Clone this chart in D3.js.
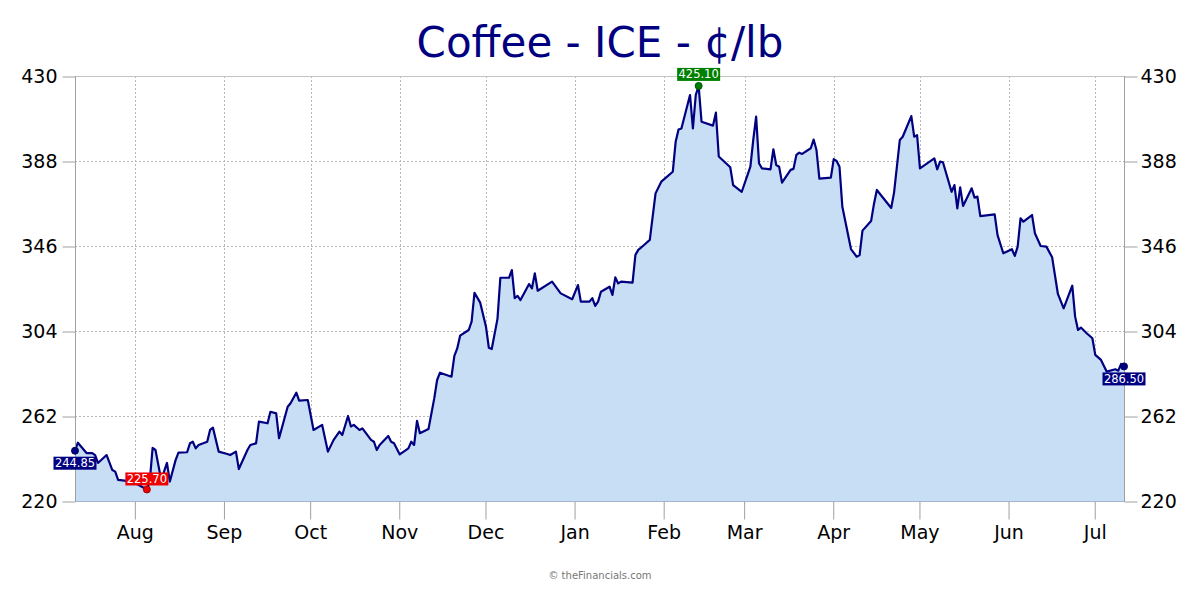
<!DOCTYPE html>
<html>
<head>
<meta charset="utf-8">
<script src="https://cdn.jsdelivr.net/npm/d3@7/dist/d3.min.js"></script>
<style>
  html, body { margin: 0; padding: 0; background: #ffffff; }
  svg { display: block; }
</style>
</head>
<body>
<svg id="chart" width="1200" height="600"></svg>
<script>
const dates = [
  "2024-07-11","2024-07-12","2024-07-15","2024-07-17","2024-07-18","2024-07-19","2024-07-22","2024-07-24","2024-07-25","2024-07-26",
  "2024-07-29","2024-07-31","2024-08-02","2024-08-05","2024-08-06","2024-08-07","2024-08-08","2024-08-10","2024-08-12","2024-08-13",
  "2024-08-15","2024-08-16","2024-08-19","2024-08-20","2024-08-21","2024-08-22","2024-08-23","2024-08-26","2024-08-27","2024-08-28",
  "2024-08-30","2024-09-02","2024-09-03","2024-09-05","2024-09-06","2024-09-09","2024-09-10","2024-09-12","2024-09-13","2024-09-16",
  "2024-09-17","2024-09-19","2024-09-20","2024-09-23","2024-09-24","2024-09-26","2024-09-27","2024-09-30","2024-10-02","2024-10-05",
  "2024-10-07","2024-10-09","2024-10-11","2024-10-12","2024-10-14","2024-10-15","2024-10-16","2024-10-18","2024-10-19","2024-10-22",
  "2024-10-23","2024-10-24","2024-10-25","2024-10-28","2024-10-29","2024-10-30","2024-11-01","2024-11-04","2024-11-05","2024-11-06",
  "2024-11-07","2024-11-08","2024-11-11","2024-11-13","2024-11-14","2024-11-15","2024-11-19","2024-11-20","2024-11-21","2024-11-22",
  "2024-11-25","2024-11-26","2024-11-27","2024-11-29","2024-12-01","2024-12-02","2024-12-03","2024-12-05","2024-12-06","2024-12-09",
  "2024-12-10","2024-12-11","2024-12-12","2024-12-13","2024-12-16","2024-12-17","2024-12-18","2024-12-19","2024-12-24","2024-12-27",
  "2024-12-31","2025-01-02","2025-01-03","2025-01-06","2025-01-07","2025-01-08","2025-01-09","2025-01-10","2025-01-13","2025-01-14",
  "2025-01-15","2025-01-16","2025-01-17","2025-01-21","2025-01-22","2025-01-23","2025-01-25","2025-01-27","2025-01-29","2025-01-31",
  "2025-02-04","2025-02-05","2025-02-06","2025-02-07","2025-02-10","2025-02-11","2025-02-12","2025-02-13","2025-02-14","2025-02-18",
  "2025-02-19","2025-02-20","2025-02-24","2025-02-25","2025-02-28","2025-03-03","2025-03-04","2025-03-05","2025-03-06","2025-03-07",
  "2025-03-10","2025-03-11","2025-03-12","2025-03-13","2025-03-14","2025-03-17","2025-03-18","2025-03-19","2025-03-20","2025-03-21",
  "2025-03-24","2025-03-25","2025-03-26","2025-03-27","2025-03-31","2025-04-01","2025-04-02","2025-04-03","2025-04-04","2025-04-07",
  "2025-04-09","2025-04-10","2025-04-11","2025-04-14","2025-04-15","2025-04-16","2025-04-21","2025-04-22","2025-04-24","2025-04-25",
  "2025-04-28","2025-04-29","2025-04-30","2025-05-01","2025-05-06","2025-05-07","2025-05-08","2025-05-09","2025-05-12","2025-05-13",
  "2025-05-14","2025-05-15","2025-05-16","2025-05-19","2025-05-20","2025-05-21","2025-05-22","2025-05-27","2025-05-28","2025-05-30",
  "2025-06-02","2025-06-03","2025-06-04","2025-06-05","2025-06-06","2025-06-09","2025-06-10","2025-06-12","2025-06-14","2025-06-16",
  "2025-06-18","2025-06-20","2025-06-23","2025-06-24","2025-06-25","2025-06-26","2025-06-28","2025-06-30","2025-07-01","2025-07-03",
  "2025-07-05","2025-07-08","2025-07-09","2025-07-10","2025-07-11"
];
const prices = [
  244.85,248.8,243.7,243.7,242.7,238.8,242.7,235.3,234.5,230.4,
  229.9,229.5,228.0,225.7,229.6,246.2,245.2,230.4,238.8,229.6,
  240.2,243.9,244.1,248.5,249.3,246.0,247.7,249.3,255.1,256.2,
  244.4,243.2,242.7,244.4,235.8,245.2,247.7,248.5,259.2,258.4,
  264.1,263.3,251.0,266.6,268.3,273.5,269.6,269.9,255.1,257.6,
  244.4,250.2,254.3,252.6,262.0,256.8,257.6,255.1,255.9,250.2,
  249.3,245.2,247.7,252.1,249.3,248.5,243.0,246.0,249.3,247.7,
  259.6,253.5,255.6,270.7,279.8,283.4,281.4,291.7,295.4,301.7,
  304.5,308.6,322.9,318.0,306.1,295.7,295.1,310.0,330.3,330.3,
  334.1,320.2,321.3,319.3,327.2,325.1,332.5,323.9,328.4,322.6,
  319.7,326.7,318.5,318.5,320.2,316.4,318.5,323.4,325.9,321.8,
  330.5,327.5,328.4,327.9,341.6,344.1,346.5,349.0,372.0,377.8,
  382.7,397.5,403.6,404.1,420.6,404.1,420.6,425.1,407.4,405.5,
  411.9,390.2,384.9,376.1,372.8,385.2,398.4,409.9,386.9,384.4,
  383.9,393.8,386.0,385.2,377.3,383.6,384.1,391.0,392.1,391.5,
  394.3,398.6,393.4,379.3,379.8,388.9,388.0,385.2,365.4,344.5,
  340.7,341.5,353.6,358.3,366.8,373.7,364.8,372.5,398.4,400.0,
  410.2,400.0,400.8,384.4,389.3,383.9,387.7,387.4,372.8,376.1,
  364.6,375.0,365.8,374.5,369.9,370.4,360.8,361.6,351.4,342.4,
  344.4,341.1,345.7,359.7,358.0,361.3,352.3,346.0,345.7,340.4,
  322.3,315.2,326.4,311.1,304.5,305.7,302.9,300.4,292.2,289.7,
  283.9,285.1,284.4,287.7,286.5
];
const yTicks = [220, 262, 304, 346, 388, 430];
const monthTicks = ["2024-08-01","2024-09-01","2024-10-01","2024-11-01","2024-12-01","2025-01-01",
                    "2025-02-01","2025-03-01","2025-04-01","2025-05-01","2025-06-01","2025-07-01"];
const monthLabels = ["Aug","Sep","Oct","Nov","Dec","Jan","Feb","Mar","Apr","May","Jun","Jul"];
const xDomain = ["2024-07-11","2025-07-11"];
const titleText = "Coffee - ICE - ¢/lb";
const footerText = "© theFinancials.com";
const startLabel = "244.85", endLabel = "286.50", minLabel = "225.70", maxLabel = "425.10";

const parse = d3.utcParse("%Y-%m-%d");
const data = dates.map((d, i) => ({ date: parse(d), value: prices[i] }));

const svg = d3.select("#chart");
const L = 75, R = 1124, T = 76, B = 501;
const font = "DejaVu Sans, Verdana, sans-serif";

const x = d3.scaleUtc().domain(xDomain.map(parse)).range([L, R]);
const y = d3.scaleLinear().domain([220, 430]).range([B, T]);

// Title
svg.append("text").attr("x", 600).attr("y", 57).attr("text-anchor", "middle")
  .attr("font-family", font).attr("font-size", 42).attr("fill", "#000080").text(titleText);

// Grid
const grid = svg.append("g");
grid.selectAll("line.h").data(yTicks.filter(v => v > 220 && v < 430)).join("line")
  .attr("x1", L).attr("x2", R).attr("y1", d => y(d) + 0.5).attr("y2", d => y(d) + 0.5)
  .attr("stroke", "#b8b8b8").attr("stroke-dasharray", "2,2").attr("stroke-width", 1);
grid.selectAll("line.v").data(monthTicks.map(parse)).join("line")
  .attr("x1", d => Math.round(x(d)) + 0.5).attr("x2", d => Math.round(x(d)) + 0.5)
  .attr("y1", T).attr("y2", B)
  .attr("stroke", "#b8b8b8").attr("stroke-dasharray", "2,2").attr("stroke-width", 1);

// Clip
svg.append("defs").append("clipPath").attr("id", "clip")
  .append("rect").attr("x", L).attr("y", T - 20).attr("width", R - L).attr("height", B - T + 20);

const area = d3.area().x(d => x(d.date)).y0(y(220)).y1(d => y(d.value));
const line = d3.line().x(d => x(d.date)).y(d => y(d.value));

const plot = svg.append("g").attr("clip-path", "url(#clip)");
plot.append("path").datum(data).attr("d", area).attr("fill", "#c8def5");
plot.append("path").datum(data).attr("d", line).attr("fill", "none")
  .attr("stroke", "#000080").attr("stroke-width", 2.2).attr("stroke-linejoin", "round");

// Frame
svg.append("line").attr("x1", L).attr("x2", R).attr("y1", T + 0.5).attr("y2", T + 0.5).attr("stroke", "#c4c4c4");
svg.append("line").attr("x1", L).attr("x2", R).attr("y1", B + 0.5).attr("y2", B + 0.5).attr("stroke", "#a4b4cc");
svg.append("line").attr("x1", L + 0.5).attr("x2", L + 0.5).attr("y1", T).attr("y2", B + 1).attr("stroke", "#a0a0a0");
svg.append("line").attr("x1", R + 0.5).attr("x2", R + 0.5).attr("y1", T).attr("y2", B + 1).attr("stroke", "#a0a0a0");

// Left / right axes
const yAxisL = d3.axisLeft(y).tickValues(yTicks).tickSize(13).tickPadding(5).tickFormat(d3.format("d"));
const yAxisR = d3.axisRight(y).tickValues(yTicks).tickSize(13).tickPadding(3).tickFormat(d3.format("d"));
const gl = svg.append("g").attr("transform", `translate(${L + 0.5},0.5)`).call(yAxisL);
const gr = svg.append("g").attr("transform", `translate(${R + 0.5},0.5)`).call(yAxisR);
[gl, gr].forEach(g => {
  g.select(".domain").remove();
  g.selectAll(".tick line").attr("stroke", "#a0a0a0");
  g.selectAll(".tick text").attr("font-family", font).attr("font-size", 19).attr("fill", "#000");
});

// Bottom axis
const xAxis = d3.axisBottom(x).tickValues(monthTicks.map(parse)).tickSize(18).tickPadding(6)
  .tickFormat((d, i) => monthLabels[i]);
const gx = svg.append("g").attr("transform", `translate(-0.5,${B + 0.5})`).call(xAxis);
gx.select(".domain").remove();
gx.selectAll(".tick line").attr("stroke", "#a0a0a0");
gx.selectAll(".tick text").attr("font-family", font).attr("font-size", 19).attr("fill", "#000");

// Markers and value labels
const first = data[0], last = data[data.length - 1];
const minP = data.reduce((a, b) => b.value < a.value ? b : a);
const maxP = data.reduce((a, b) => b.value > a.value ? b : a);

function marker(p, fill, stroke, text, below, dy) {
  const px = x(p.date), py = y(p.value);
  const g = svg.append("g");
  const w = 43, h = 13;
  const top = below ? py + dy : py - dy - h;
  g.append("rect").attr("x", px - w / 2).attr("y", top).attr("width", w).attr("height", h)
    .attr("fill", fill);
  g.append("text").attr("x", px).attr("y", top + h - 2.5).attr("text-anchor", "middle")
    .attr("font-family", font).attr("font-size", 11.5).attr("fill", "#fff").text(text);
  svg.append("circle").attr("cx", px).attr("cy", py).attr("r", 3.5)
    .attr("fill", fill).attr("stroke", stroke).attr("stroke-width", 1);
}
marker(first, "#000080", "#000060", startLabel, true, 6);
marker(last, "#000080", "#000060", endLabel, true, 6);
marker(minP, "#ee0000", "#a00000", minLabel, false, 4);
marker(maxP, "#008000", "#005500", maxLabel, false, 5);

// Footer
svg.append("text").attr("x", 600).attr("y", 579).attr("text-anchor", "middle")
  .attr("font-family", font).attr("font-size", 10).attr("fill", "#777").text(footerText);
</script>
</body>
</html>
